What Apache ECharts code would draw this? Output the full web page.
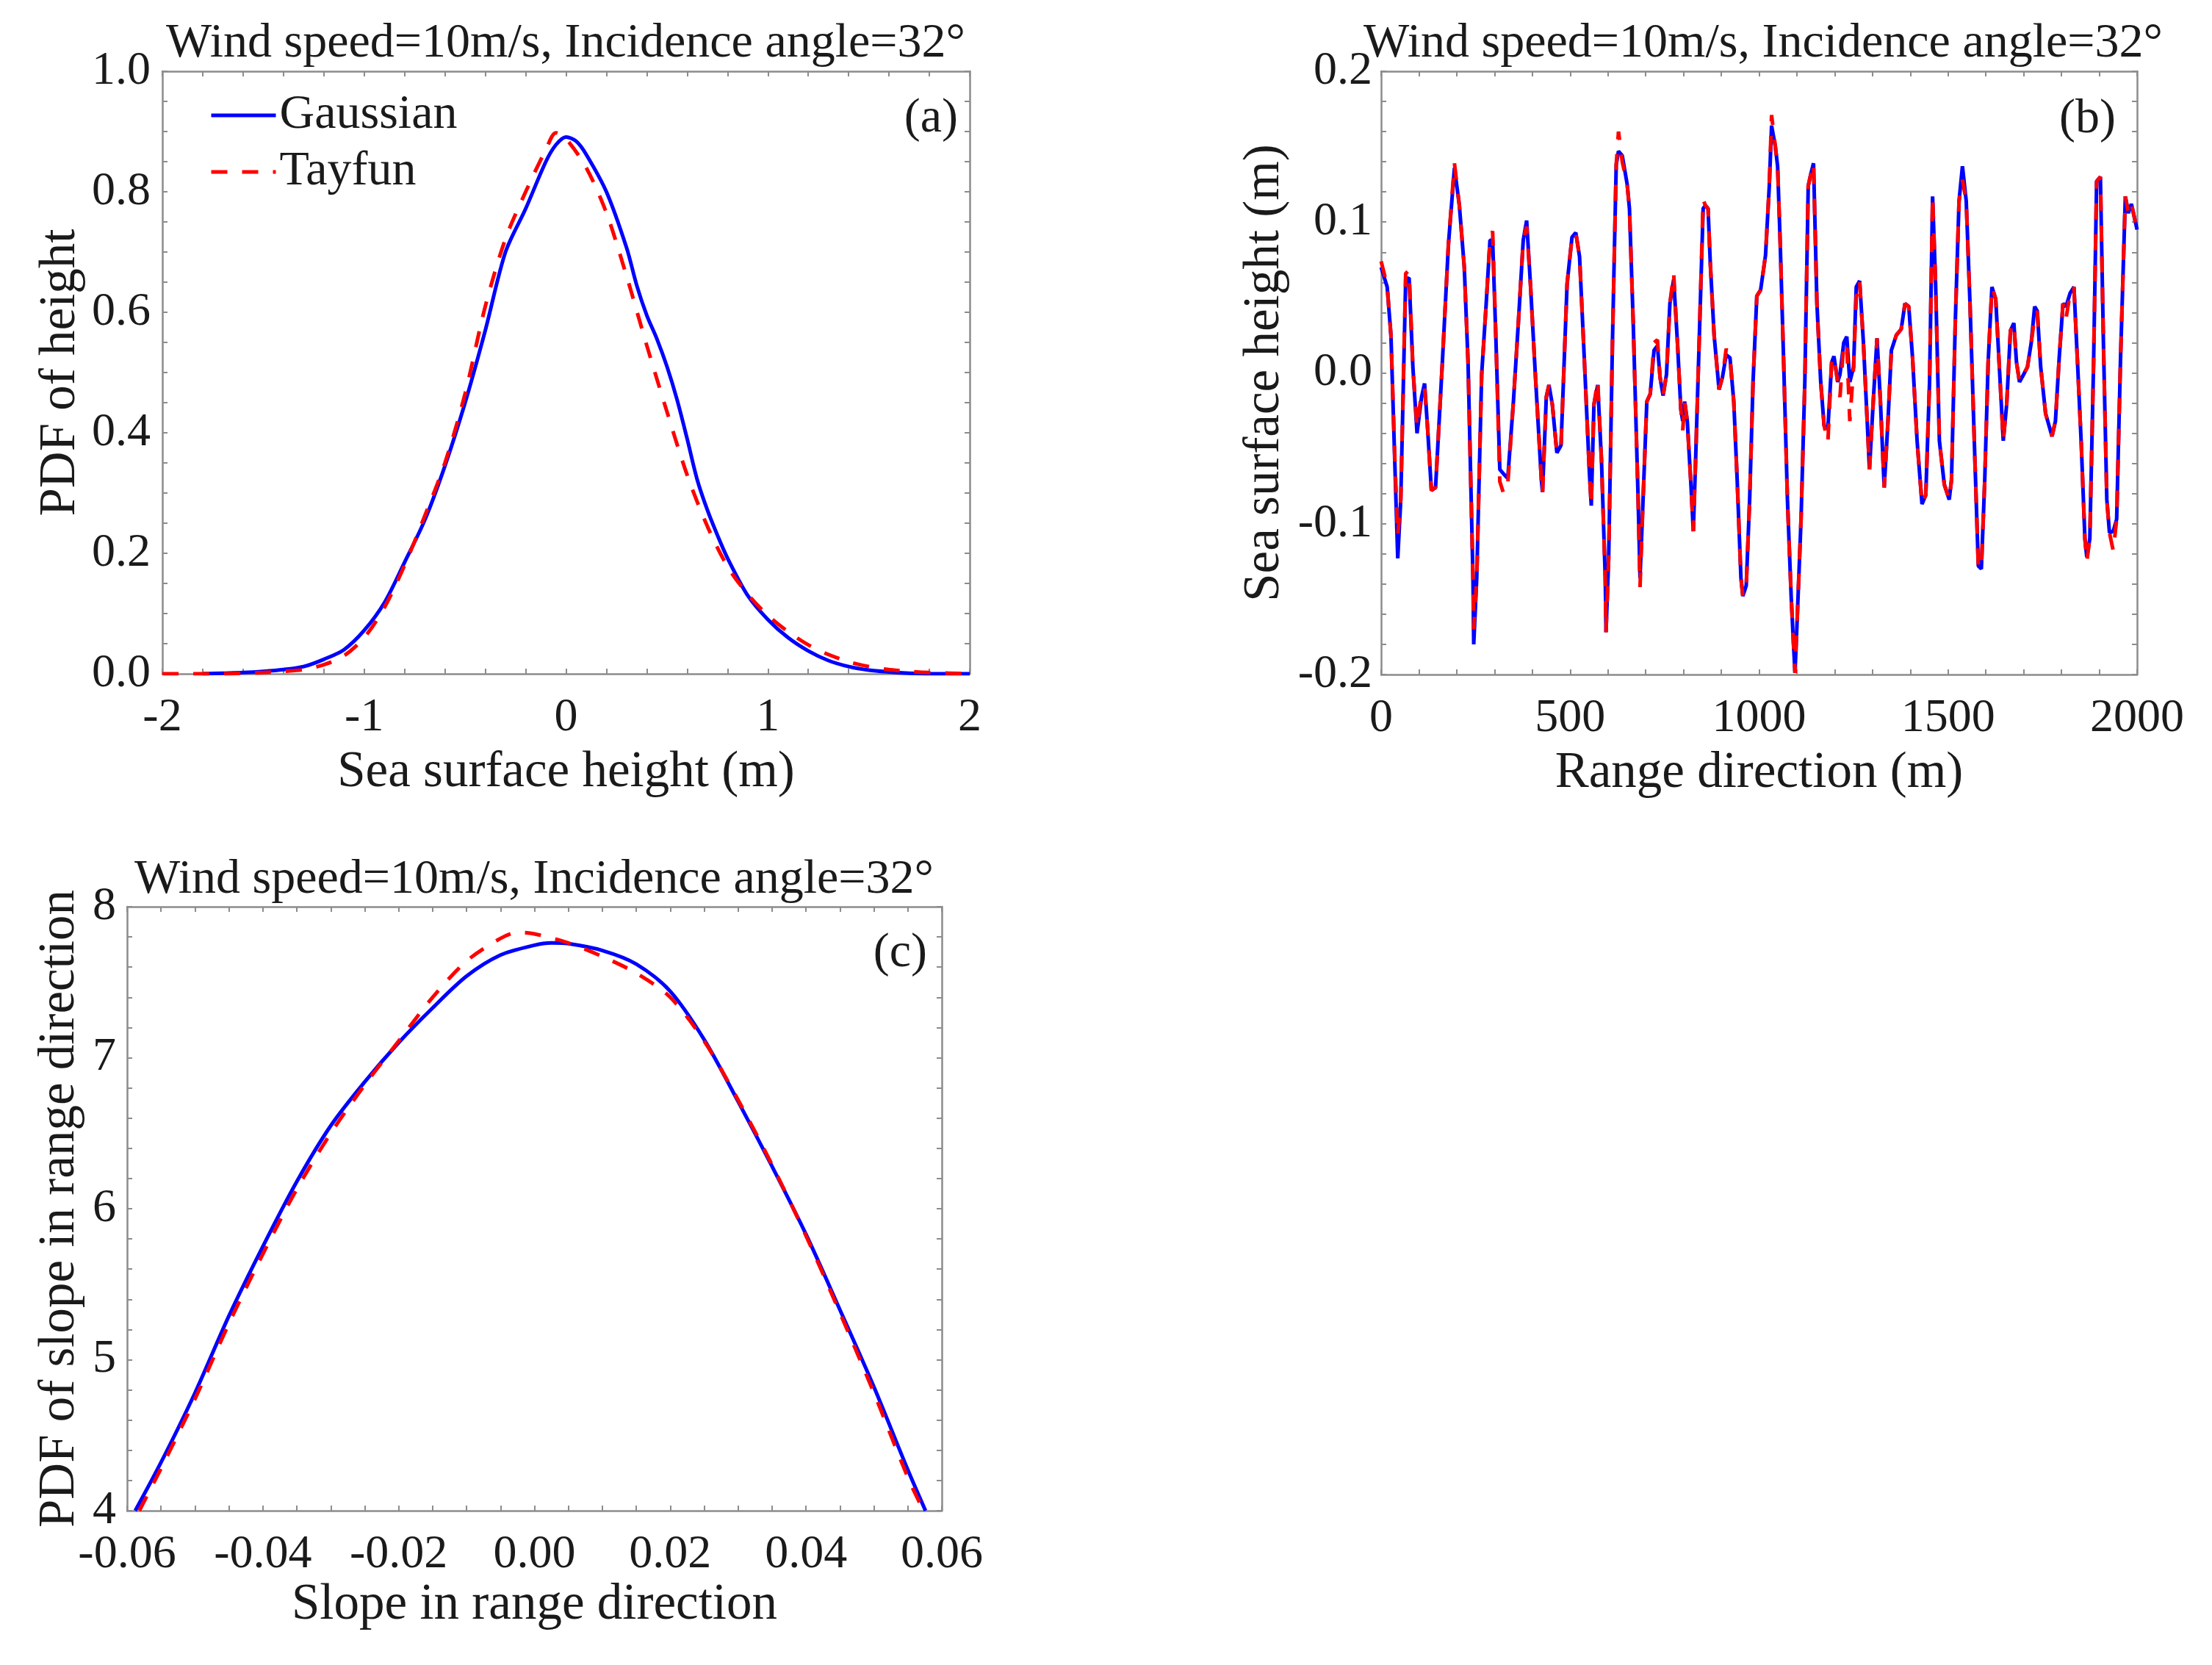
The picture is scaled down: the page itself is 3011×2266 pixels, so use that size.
<!DOCTYPE html>
<html lang="en">
<head>
<meta charset="UTF-8">
<title>Sea surface height and slope PDFs</title>
<script src="https://cdn.jsdelivr.net/npm/echarts@6/dist/echarts.min.js"></script>
<style>
  html, body { margin: 0; padding: 0; background: #fff; }
  #main { width: 3011px; height: 2266px; }
</style>
</head>
<body>
<div id="main"></div>
<script>
// (a) PDF of sea surface height
var gaussHeightX = [-1.8, -1.7, -1.6, -1.5, -1.4, -1.3, -1.2, -1.1, -1.0, -0.9, -0.8, -0.7, -0.6, -0.5, -0.4, -0.3, -0.2, -0.1, -0.05, 0.0,
  0.05, 0.1, 0.2, 0.3, 0.35, 0.4, 0.45, 0.5, 0.55, 0.6, 0.65, 0.7, 0.75, 0.8, 0.9, 1.0, 1.1, 1.2, 1.3, 1.4, 1.5, 1.6, 1.7, 1.8, 1.9, 2.0];
var gaussHeightPdf = [0.000, 0.001, 0.002, 0.004, 0.007, 0.012, 0.024, 0.040, 0.072, 0.118, 0.185, 0.255, 0.345, 0.450, 0.570, 0.700, 0.772, 0.850, 0.878, 0.891,
  0.884, 0.862, 0.800, 0.707, 0.645, 0.595, 0.556, 0.510, 0.455, 0.390, 0.322, 0.272, 0.230, 0.192, 0.130, 0.090, 0.060, 0.038, 0.022, 0.012, 0.006, 0.003, 0.001, 0.000, 0.000, 0.000];
var tayfunHeightX = [-2.0, -1.9, -1.8, -1.7, -1.6, -1.5, -1.4, -1.3, -1.2, -1.1, -1.0, -0.9, -0.8, -0.7, -0.6, -0.5, -0.4, -0.3, -0.2, -0.1, -0.05, 0.0,
  0.1, 0.2, 0.3, 0.4, 0.5, 0.6, 0.7, 0.8, 0.9, 1.0, 1.1, 1.2, 1.3, 1.4, 1.5, 1.6, 1.7, 1.8, 1.9, 2.0];
var tayfunHeightPdf = [0.000, 0.000, 0.000, 0.000, 0.001, 0.002, 0.004, 0.007, 0.015, 0.030, 0.060, 0.110, 0.180, 0.262, 0.350, 0.465, 0.610, 0.722, 0.800, 0.870, 0.898, 0.888,
  0.840, 0.765, 0.660, 0.545, 0.435, 0.330, 0.245, 0.178, 0.132, 0.097, 0.070, 0.048, 0.032, 0.020, 0.012, 0.007, 0.004, 0.002, 0.001, 0.000];

// (b) sea surface height along range direction
var rangeX = [0, 16, 26, 36, 44, 52, 65, 74, 84, 95, 107, 115, 123, 133, 144, 162, 178, 194, 207, 220,
  230, 243, 245, 253, 266, 278, 288, 295, 304, 314, 324, 335, 350, 363, 376, 385, 395, 408, 424, 427,
  437, 444, 453, 465, 476, 492, 505, 515, 525, 538, 551, 556, 563, 573, 583, 593, 595, 602, 612, 622,
  628, 638, 651, 657, 667, 680, 685, 693, 703, 712, 722, 731, 738, 746, 755, 764, 774, 784, 793, 798,
  803, 810, 819, 826, 832, 842, 852, 858, 865, 871, 881, 894, 903, 913, 923, 933, 942, 952, 957, 966,
  975, 984, 994, 1004, 1017, 1027, 1033, 1043, 1049, 1056, 1065, 1075, 1085, 1091, 1095, 1101, 1111, 1121, 1130, 1137,
  1144, 1153, 1163, 1172, 1182, 1192, 1198, 1208, 1214, 1224, 1232, 1240, 1250, 1257, 1266, 1276, 1286, 1292, 1302, 1312,
  1321, 1331, 1341, 1350, 1363, 1376, 1386, 1396, 1406, 1418, 1431, 1441, 1451, 1459, 1467, 1477, 1490, 1503, 1509, 1519,
  1529, 1538, 1548, 1558, 1571, 1580, 1588, 1597, 1606, 1616, 1626, 1635, 1646, 1655, 1665, 1674, 1681, 1689, 1700, 1710,
  1720, 1729, 1736, 1745, 1758, 1775, 1784, 1794, 1804, 1812, 1823, 1833, 1843, 1852, 1862, 1867, 1875, 1885, 1893, 1903,
  1911, 1920, 1927, 1937, 1946, 1956, 1969, 1977, 1985, 2000];
var gaussRangeH = [0.070, 0.057, 0.025, -0.058, -0.123, -0.084, 0.062, 0.063, 0.004, -0.040, -0.016, -0.007, -0.037, -0.078, -0.076, 0.007, 0.085, 0.136, 0.111, 0.070,
  0.007, -0.136, -0.180, -0.136, -0.001, 0.046, 0.088, 0.088, 0.020, -0.064, -0.067, -0.070, -0.019, 0.033, 0.088, 0.101, 0.059, -0.001, -0.071, -0.079,
  -0.016, -0.008, -0.021, -0.053, -0.048, 0.059, 0.090, 0.093, 0.077, 0.007, -0.066, -0.088, -0.021, -0.008, -0.058, -0.136, -0.172, -0.123, 0.020, 0.138,
  0.147, 0.144, 0.125, 0.109, 0.033, -0.084, -0.136, -0.084, -0.019, -0.014, 0.015, 0.018, -0.003, -0.015, -0.001, 0.046, 0.062, 0.020, -0.024, -0.032,
  -0.019, -0.032, -0.071, -0.105, -0.058, 0.025, 0.109, 0.111, 0.109, 0.072, 0.025, -0.011, -0.003, 0.012, 0.010, -0.019, -0.071, -0.136, -0.148, -0.141,
  -0.084, -0.006, 0.051, 0.055, 0.078, 0.124, 0.164, 0.150, 0.137, 0.085, 0.007, -0.084, -0.149, -0.180, -0.199, -0.162, -0.097, -0.006, 0.124, 0.132,
  0.139, 0.046, -0.006, -0.035, -0.037, 0.007, 0.011, -0.006, -0.001, 0.020, 0.024, -0.006, 0.004, 0.057, 0.061, 0.020, -0.032, -0.064, -0.019, 0.023,
  -0.019, -0.076, -0.032, 0.015, 0.025, 0.029, 0.046, 0.044, 0.010, -0.045, -0.087, -0.081, -0.006, 0.117, 0.059, -0.045, -0.074, -0.084, -0.071, 0.033,
  0.114, 0.137, 0.114, 0.046, -0.058, -0.128, -0.130, -0.071, 0.007, 0.057, 0.049, 0.007, -0.045, -0.021, 0.028, 0.033, 0.007, -0.006, -0.001, 0.004,
  0.020, 0.044, 0.041, 0.004, -0.027, -0.042, -0.032, 0.010, 0.046, 0.044, 0.053, 0.057, 0.004, -0.045, -0.110, -0.122, -0.110, 0.007, 0.127, 0.130,
  0.020, -0.084, -0.106, -0.105, -0.097, 0.007, 0.117, 0.106, 0.112, 0.095];
var tayfunRangeH = [0.074, 0.058, 0.025, -0.055, -0.108, -0.084, 0.066, 0.068, 0.004, -0.036, -0.013, -0.010, -0.037, -0.078, -0.076, 0.007, 0.085, 0.139, 0.111, 0.070,
  0.007, -0.136, -0.170, -0.136, -0.001, 0.046, 0.088, 0.094, 0.020, -0.072, -0.080, -0.074, -0.019, 0.033, 0.088, 0.097, 0.059, -0.001, -0.071, -0.080,
  -0.016, -0.008, -0.021, -0.053, -0.048, 0.059, 0.090, 0.093, 0.077, 0.007, -0.066, -0.088, -0.021, -0.005, -0.058, -0.136, -0.172, -0.123, 0.020, 0.138,
  0.160, 0.140, 0.125, 0.109, 0.033, -0.084, -0.142, -0.084, -0.019, -0.014, 0.020, 0.022, -0.003, -0.015, -0.001, 0.046, 0.066, 0.020, -0.024, -0.038,
  -0.019, -0.032, -0.071, -0.105, -0.058, 0.025, 0.115, 0.111, 0.109, 0.072, 0.025, -0.011, -0.003, 0.016, 0.010, -0.019, -0.071, -0.136, -0.148, -0.141,
  -0.084, -0.006, 0.051, 0.055, 0.078, 0.124, 0.171, 0.150, 0.137, 0.085, 0.007, -0.084, -0.149, -0.180, -0.199, -0.162, -0.097, -0.006, 0.124, 0.132,
  0.139, 0.046, -0.006, -0.035, -0.046, 0.007, 0.011, -0.006, -0.016, 0.020, 0.018, -0.032, 0.004, 0.050, 0.061, 0.020, -0.032, -0.064, -0.019, 0.023,
  -0.019, -0.076, -0.032, 0.015, 0.025, 0.029, 0.046, 0.044, 0.010, -0.045, -0.087, -0.081, -0.006, 0.117, 0.059, -0.045, -0.074, -0.084, -0.071, 0.033,
  0.114, 0.128, 0.114, 0.046, -0.058, -0.128, -0.130, -0.071, 0.007, 0.057, 0.049, 0.007, -0.045, -0.021, 0.028, 0.033, 0.007, -0.006, -0.001, 0.004,
  0.020, 0.037, 0.041, 0.004, -0.027, -0.042, -0.032, 0.010, 0.046, 0.036, 0.053, 0.057, 0.004, -0.045, -0.110, -0.125, -0.110, 0.007, 0.127, 0.130,
  0.020, -0.084, -0.106, -0.118, -0.097, 0.007, 0.117, 0.106, 0.112, 0.095];

// (c) PDF of slope in range direction
var gaussSlopeX = [-0.0588, -0.055, -0.05, -0.045, -0.04, -0.035, -0.03, -0.025, -0.02, -0.015, -0.01, -0.005, 0.0, 0.0025, 0.005,
  0.01, 0.015, 0.02, 0.025, 0.03, 0.035, 0.04, 0.045, 0.05, 0.055, 0.0576];
var gaussSlopePdf = [4.00, 4.32, 4.78, 5.29, 5.75, 6.18, 6.55, 6.84, 7.10, 7.33, 7.54, 7.68, 7.745, 7.76, 7.755,
  7.71, 7.62, 7.44, 7.12, 6.71, 6.28, 5.83, 5.33, 4.82, 4.27, 4.00];
var tayfunSlopeX = [-0.0582, -0.055, -0.05, -0.045, -0.04, -0.035, -0.03, -0.025, -0.02, -0.015, -0.01, -0.005, -0.0025, 0.0,
  0.005, 0.01, 0.015, 0.02, 0.025, 0.03, 0.035, 0.04, 0.045, 0.05, 0.055, 0.0573];
var tayfunSlopePdf = [4.00, 4.28, 4.74, 5.24, 5.70, 6.13, 6.50, 6.82, 7.11, 7.40, 7.64, 7.79, 7.83, 7.82,
  7.76, 7.67, 7.56, 7.40, 7.11, 6.72, 6.29, 5.82, 5.31, 4.78, 4.22, 4.00];

var titleText = 'Wind speed=10m/s, Incidence angle=32\u00b0';

var FONT = '"Liberation Serif", "Times New Roman", serif';
var TEXT = '#1a1a1a';
var AXIS = '#8c8c8c';

function zip(xs, ys) {
  return xs.map(function (x, i) { return [x, ys[i]]; });
}

function fixed(d) {
  return function (v) {
    if (Math.abs(v) < 1e-9) v = 0;
    return v.toFixed(d);
  };
}

// one labelled axis plus a mirrored unlabelled one (ticks on all four sides)
function axisPair(dim, grid, min, max, interval, minorSplit, fmt, name, nameGap, labelMargin) {
  function base() {
    return {
      type: 'value', gridIndex: grid, min: min, max: max, interval: interval,
      axisLine: { onZero: false, lineStyle: { color: AXIS, width: 2.5 } },
      axisTick: { inside: true, length: 7, lineStyle: { color: AXIS, width: 2 } },
      minorTick: { show: true, splitNumber: minorSplit, length: 7, lineStyle: { color: AXIS, width: 2 } },
      splitLine: { show: false },
      minorSplitLine: { show: false }
    };
  }
  var main = base();
  main.position = dim === 'x' ? 'bottom' : 'left';
  main.name = name;
  main.nameLocation = 'middle';
  main.nameGap = nameGap;
  main.nameTextStyle = { fontFamily: FONT, fontSize: 69, color: TEXT };
  main.axisLabel = { margin: labelMargin, fontFamily: FONT, fontSize: 64, color: TEXT, formatter: fmt };
  var mirror = base();
  mirror.position = dim === 'x' ? 'top' : 'right';
  mirror.axisLabel = { show: false };
  return [main, mirror];
}

function lineSeries(name, xi, yi, data, color, dashed, smooth, z) {
  return {
    type: 'line', name: name, xAxisIndex: xi, yAxisIndex: yi, data: data,
    symbol: 'none', showSymbol: false, smooth: smooth, z: z,
    lineStyle: { color: color, width: 5, type: dashed ? [22, 20] : 'solid' },
    itemStyle: { color: color }
  };
}

var xAxes = []
  .concat(axisPair('x', 0, -2, 2, 1, 5, fixed(0), 'Sea surface height (m)', 100, 28))
  .concat(axisPair('x', 1, 0, 2000, 500, 5, fixed(0), 'Range direction (m)', 100, 28))
  .concat(axisPair('x', 2, -0.06, 0.06, 0.02, 4, fixed(2), 'Slope in range direction', 94, 28));
var yAxes = []
  .concat(axisPair('y', 0, 0, 1, 0.2, 4, fixed(1), 'PDF of height', 104, 16))
  .concat(axisPair('y', 1, -0.2, 0.2, 0.1, 5, fixed(1), 'Sea surface height (m)', 124, 12))
  .concat(axisPair('y', 2, 4, 8, 1, 5, fixed(0), 'PDF of slope in range direction', 57, 15));

function label(text, x, y, align) {
  return {
    type: 'text', x: x, y: y, silent: true,
    style: { text: text, font: '66px ' + FONT, fill: TEXT, align: align, verticalAlign: 'middle' }
  };
}

var chart = echarts.init(document.getElementById('main'), null, { renderer: 'canvas' });
chart.setOption({
  backgroundColor: '#ffffff',
  animation: false,
  grid: [
    { left: 221, top: 97, width: 1099, height: 820 },
    { left: 1880, top: 97, width: 1029, height: 821 },
    { left: 173, top: 1234, width: 1109, height: 822 }
  ],
  xAxis: xAxes,
  yAxis: yAxes,
  legend: {
    data: ['Gaussian', 'Tayfun'],
    orient: 'vertical',
    left: 280, top: 119,
    itemWidth: 88, itemHeight: 24, itemGap: 11,
    itemStyle: { opacity: 0 },
    lineStyle: { width: 5 },
    textStyle: { fontFamily: FONT, fontSize: 66, color: TEXT }
  },
  graphic: [
    label(titleText, 770, 60, 'center'),
    label(titleText, 2400, 60, 'center'),
    label(titleText, 727, 1198, 'center'),
    label('(a)', 1304, 162, 'right'),
    label('(b)', 2880, 163, 'right'),
    label('(c)', 1262, 1298, 'right')
  ],
  series: [
    lineSeries('Gaussian', 0, 0, zip(gaussHeightX, gaussHeightPdf), '#0000ff', false, 0.3, 2),
    lineSeries('Tayfun', 0, 0, zip(tayfunHeightX, tayfunHeightPdf), '#ff0000', true, 0.3, 3),
    lineSeries('Gaussian', 2, 2, zip(rangeX, gaussRangeH), '#0000ff', false, false, 2),
    lineSeries('Tayfun', 2, 2, zip(rangeX, tayfunRangeH), '#ff0000', true, false, 3),
    lineSeries('Gaussian', 4, 4, zip(gaussSlopeX, gaussSlopePdf), '#0000ff', false, 0.3, 2),
    lineSeries('Tayfun', 4, 4, zip(tayfunSlopeX, tayfunSlopePdf), '#ff0000', true, 0.3, 3)
  ]
});
</script>
</body>
</html>
